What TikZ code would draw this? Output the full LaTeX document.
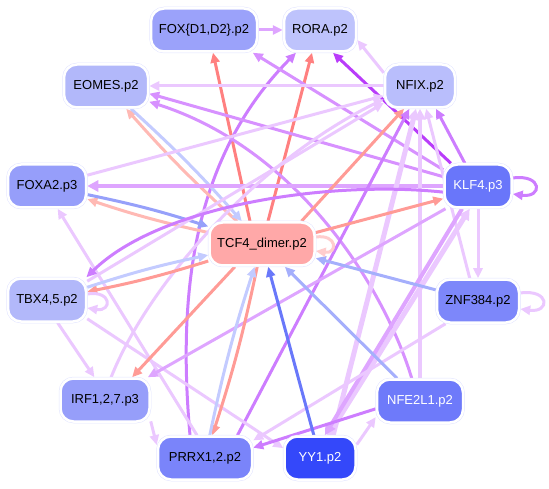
\documentclass[tikz,border=0pt]{standalone}
\usepackage{fontspec}
\setmainfont{Liberation Sans}
\usetikzlibrary{arrows.meta}
\pgfdeclarelayer{background}
\pgfsetlayers{background,main}
\definecolor{cSal}{RGB}{255,128,128}
\definecolor{cSalM}{RGB}{255,155,150}
\definecolor{cSalL}{RGB}{255,185,180}
\definecolor{cPink}{RGB}{255,205,205}
\definecolor{cBlueL}{RGB}{195,203,255}
\definecolor{cBlueM}{RGB}{165,175,252}
\definecolor{cBlue}{RGB}{150,160,250}
\definecolor{cBlueS}{RGB}{105,120,250}
\definecolor{cVioD}{RGB}{185,60,250}
\definecolor{cVio}{RGB}{205,125,255}
\definecolor{cVioM}{RGB}{215,145,255}
\definecolor{cVioL}{RGB}{222,165,255}
\definecolor{cLav}{RGB}{235,200,255}
\definecolor{ring}{RGB}{225,228,255}
\definecolor{fFox}{RGB}{155,162,250}
\definecolor{fRora}{RGB}{190,195,252}
\definecolor{fEomes}{RGB}{178,184,250}
\definecolor{fNfix}{RGB}{185,190,252}
\definecolor{fFoxa}{RGB}{150,158,250}
\definecolor{fKlf}{RGB}{105,118,250}
\definecolor{fTcf}{RGB}{255,168,168}
\definecolor{fTbx}{RGB}{178,184,250}
\definecolor{fZnf}{RGB}{125,135,250}
\definecolor{fIrf}{RGB}{150,158,250}
\definecolor{fNfe}{RGB}{110,122,250}
\definecolor{fPrrx}{RGB}{122,132,250}
\definecolor{fYy}{RGB}{52,72,250}
\begin{document}
\begin{tikzpicture}[x=1pt,y=-1pt,
  box/.style={rounded corners=13pt, minimum height=43pt, inner sep=0pt,
    draw=white, line width=2.5pt, preaction={draw=ring, line width=3.5pt},
    font=\fontsize{13}{15}\selectfont},
  e/.style={line width=3pt, -{Triangle[length=10pt,width=9pt]}},
  ethick/.style={line width=5pt, -{Triangle[length=11pt,width=11pt]}},
]
\useasboundingbox (0,0) rectangle (549,489);
\node[box, fill=fFox, minimum width=106pt] (fox) at (204,30) {FOX\{D1,D2\}.p2};
\node[box, fill=fRora, minimum width=72pt] (rora) at (320,30) {RORA.p2};
\node[box, fill=fEomes, minimum width=84pt] (eomes) at (106,86) {EOMES.p2};
\node[box, fill=fNfix, minimum width=70pt] (nfix) at (420,86) {NFIX.p2};
\node[box, fill=fFoxa, minimum width=78pt] (foxa2) at (47,186) {FOXA2.p3};
\node[box, fill=fKlf, minimum width=67pt, text=white] (klf4) at (478,186) {KLF4.p3};
\node[box, fill=fTcf, minimum width=105pt] (tcf4) at (262,244) {TCF4\_dimer.p2};
\node[box, fill=fTbx, minimum width=78pt] (tbx) at (47,300) {TBX4,5.p2};
\node[box, fill=fZnf, minimum width=82pt] (znf) at (478,301) {ZNF384.p2};
\node[box, fill=fIrf, minimum width=89pt] (irf) at (105,400) {IRF1,2,7.p3};
\node[box, fill=fNfe, minimum width=86pt, text=white] (nfe) at (420,401) {NFE2L1.p2};
\node[box, fill=fPrrx, minimum width=94pt] (prrx) at (205,458) {PRRX1,2.p2};
\node[box, fill=fYy, minimum width=71pt, text=white] (yy1) at (320,458) {YY1.p2};
\begin{pgfonlayer}{background}
% top
\draw[e, cVioL] (fox) -- (rora);
\draw[e, cSal] ([xshift=-12pt]tcf4.north) -- ([xshift=9pt]fox.south);
\draw[e, cSal] ([xshift=6pt]tcf4.north) -- ([xshift=-8pt]rora.south);
\draw[e, cVio] ([xshift=-15pt]prrx.north) .. controls (178,300) and (190,160) .. ([xshift=-24pt]rora.south);
\draw[e, cLav] (nfix.160) -- (rora.-15);
\draw[e, cVioD] (klf4.140) -- ([xshift=13pt]rora.south);
\draw[e, cVioM] (klf4.155) -- (fox.-25);
% eomes
\draw[e, cLav] (nfix.west) -- (eomes.east);
\draw[e, cVioM] (klf4.165) -- (eomes.-10);
\draw[e, cVioM] (nfe.110) .. controls (385,290) and (300,150) .. (eomes.-20);
\draw[e, cSalL] (tcf4) to[bend left=3] (eomes);
\draw[e, cBlueL] (eomes) to[bend left=3] (tcf4);
% foxa2
\draw[ethick, cVioL, line width=4pt] (klf4.west) -- (foxa2.east);
\draw[e, cLav] (foxa2.15) -- (nfix.195);
\draw[e, cSalL] (tcf4) to[bend left=3] (foxa2);
\draw[e, cBlue] (foxa2) to[bend left=3] (tcf4);
\draw[e, cLav] ([xshift=-8pt]prrx.north) -- (foxa2.-65);
% nfix
\draw[e, cLav] (tbx.25) -- (nfix.205);
\draw[e, cSalM] (tcf4.30) -- (nfix.235);
\draw[e, cVio] (klf4.120) -- (nfix.-55);
\draw[ethick, cLav, line width=4pt] (nfe.north) -- (nfix.south);
\draw[ethick, cLav] (yy1.60) -- (nfix.-100);
\draw[e, cVio] (prrx.35) -- (nfix.-115);
\draw[e, cLav] (znf.110) -- (nfix.-75);
\draw[e, cLav] (irf.75) .. controls (150,280) and (260,160) .. (nfix.200);
% klf4
\draw[e, cSalM] (tcf4.12) -- (klf4.200);
\draw[e, cVio] ([yshift=8pt]klf4.east) .. controls +(30,-4) and +(30,4) .. ([yshift=-8pt]klf4.east);
\draw[e, cLav] (klf4) -- (znf);
\draw[e, cLav] ([yshift=8pt]znf.east) .. controls +(30,-4) and +(30,4) .. ([yshift=-8pt]znf.east);
\draw[e, cVio] (klf4.190) .. controls (330,180) and (160,205) .. (tbx.30);
\draw[ethick, cLav] (yy1.70) -- (klf4.-110);
\draw[ethick, cVioL, line width=4pt] (klf4.-125) -- (yy1.78);
% tbx
\draw[e, cSalM] (tcf4) to[bend left=3] (tbx);
\draw[e, cBlueL] (tbx) to[bend left=3] (tcf4);
\draw[e, cLav] ([yshift=6pt]tbx.east) .. controls +(25,-4) and +(25,4) .. ([yshift=-8pt]tbx.east);
\draw[e, cLav] (tbx.-65) -- (irf.115);
\draw[e, cLav] (tbx.-25) -- (yy1.165);
% irf
\draw[e, cSalM] (tcf4.220) -- (irf.40);
\draw[e, cVioL] (klf4.215) -- (irf.28);
\draw[e, cLav] (irf.-25) -- (prrx.165);
% prrx
\draw[e, cSalM] (tcf4) to[bend left=3] (prrx);
\draw[e, cBlueL] (prrx) to[bend left=3] (tcf4);
\draw[e, cVio] (nfe.190) -- (prrx.12);
\draw[e, cLav] (znf.215) -- (prrx.20);
% into tcf4
\draw[e, cBlueS] (yy1) -- (tcf4);
\draw[e, cBlueM] (nfe) -- (tcf4);
\draw[e, cBlueM] (znf) -- (tcf4);
\draw[e, cPink] ([yshift=7pt]tcf4.east) .. controls +(22,-3) and +(22,3) .. ([yshift=-7pt]tcf4.east);
\draw[e, cLav] (yy1.20) -- (nfe.200);
\end{pgfonlayer}
\end{tikzpicture}
\end{document}
